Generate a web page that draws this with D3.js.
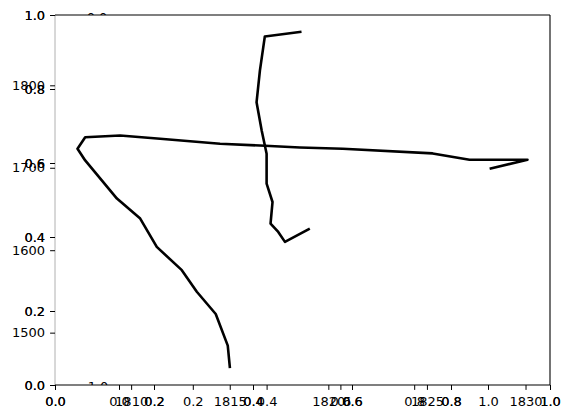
<!DOCTYPE html>
<html><head><meta charset="utf-8">
<script src="https://cdn.jsdelivr.net/npm/d3@7"></script>
<style>body{margin:0;background:#fff}svg{display:block}text{font-family:"DejaVu Sans";font-size:13px;fill:#000}</style>
</head><body>
<script>
// data
const line1Years = [1815.01,1814.90,1814.29,1813.33,1812.57,1811.30,1810.46,1809.28,1807.67,1807.28,1807.67,1809.44,1811.47,1814.51,1816.53,1818.56,1820.73,1825.29,1827.16,1830.10,1828.18];
const line1Values = [1456.9,1484.3,1522.6,1549.6,1575.8,1604.0,1638.4,1662.6,1708.9,1723.1,1737.1,1739.1,1735.2,1729.1,1727.0,1724.6,1723.1,1717.4,1709.8,1709.8,1698.9];
const line2Years = [1818.64,1816.78,1816.53,1816.36,1816.62,1816.87,1816.87,1817.17,1817.07,1817.46,1817.80,1819.06];
const line2Values = [1864.9,1859.3,1817.8,1779.4,1745.2,1717.0,1680.7,1658.5,1632.3,1622.2,1610.1,1626.3];
const unitTicks = [0,0.2,0.4,0.6,0.8,1.0];
const yearTicks = [1810,1815,1820,1825,1830];
const valueTicks = [1500,1600,1700,1800];

const W=571,H=418, L=55,R=550,T=15,B=385, FS=13;
const svg=d3.select("body").append("svg").attr("width",W).attr("height",H);

function padded(arr){const [a,b]=d3.extent(arr);const m=(b-a)*0.05;return [a-m,b+m];}
const allYears=line1Years.concat(line2Years), allVals=line1Values.concat(line2Values);
const xYear=d3.scaleLinear().domain(padded(allYears)).range([L,R]);
const yVal=d3.scaleLinear().domain(padded(allVals)).range([B,T]);
const xMain=d3.scaleLinear().domain([0,1]).range([L,R]);
const yMain=d3.scaleLinear().domain([0,1]).range([B,T]);
const xSecond=d3.scaleLinear().domain([0,1]).range([119,488]);

// clip for partially hidden labels
const defs=svg.append("defs");
defs.append("clipPath").attr("id","cTop").append("rect").attr("x",0).attr("y",0).attr("width",W).attr("height",T);
defs.append("clipPath").attr("id","cBot").append("rect").attr("x",0).attr("y",0).attr("width",W).attr("height",B);
svg.append("text").attr("x",97).attr("y",21.5).attr("text-anchor","middle").attr("clip-path","url(#cTop)").text("0.0");
svg.append("text").attr("x",98).attr("y",391).attr("text-anchor","middle").attr("clip-path","url(#cBot)").text("1.0");

// lines
const lineGen=d3.line().x(d=>xYear(d[0])).y(d=>yVal(d[1]));
[[line1Years,line1Values],[line2Years,line2Values]].forEach(([xs,ys])=>{
  svg.append("path").datum(xs.map((x,i)=>[x,ys[i]])).attr("d",lineGen)
    .attr("fill","none").attr("stroke","#000").attr("stroke-width",2.6).attr("stroke-linejoin","round");
});

// spines
svg.append("line").attr("x1",L).attr("x2",L).attr("y1",T).attr("y2",B).attr("stroke","#b0b0b0").attr("stroke-width",1);
svg.append("line").attr("x1",L).attr("x2",R).attr("y1",T).attr("y2",T).attr("stroke","#000").attr("stroke-width",1.1);
svg.append("line").attr("x1",R).attr("x2",R).attr("y1",T).attr("y2",B).attr("stroke","#000").attr("stroke-width",1.1);
svg.append("line").attr("x1",L).attr("x2",R).attr("y1",B).attr("y2",B).attr("stroke","#000").attr("stroke-width",1.1);

function styleAxis(g){
  g.select(".domain").remove();
  g.attr("font-size",FS).attr("font-family","DejaVu Sans");
  g.selectAll(".tick line").attr("stroke","#000").attr("stroke-width",1);
  g.selectAll(".tick text").attr("font-family","DejaVu Sans").attr("font-size",FS).attr("fill","#000");
}
function bottom(scale,ticks,fmt,times){
  for(let i=0;i<times;i++){
    const g=svg.append("g").attr("transform",`translate(0,${B})`)
      .call(d3.axisBottom(scale).tickValues(ticks).tickFormat(fmt).tickSizeOuter(0).tickSize(4.9).tickPadding(6.5));
    styleAxis(g);
  }
}
function left(scale,ticks,fmt,times){
  for(let i=0;i<times;i++){
    const g=svg.append("g").attr("transform",`translate(${L},0)`)
      .call(d3.axisLeft(scale).tickValues(ticks).tickFormat(fmt).tickSizeOuter(0).tickSize(4.9).tickPadding(5));
    styleAxis(g);
  }
}
const f1=d3.format(".1f"), fy=d3.format("d");
bottom(xMain,unitTicks,f1,2);
bottom(xSecond,unitTicks,f1,1);
bottom(xYear,yearTicks,fy,1);
left(yMain,unitTicks,f1,2);
left(yVal,valueTicks,fy,1);
</script>
</body></html>
